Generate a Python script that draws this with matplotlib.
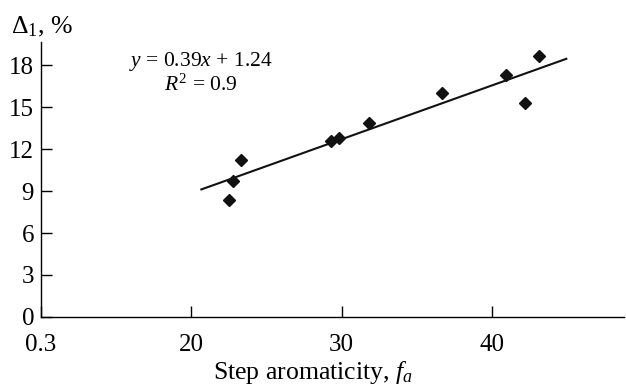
import matplotlib
matplotlib.use("Agg")
import matplotlib.pyplot as plt

plt.rcParams['font.family'] = ['Liberation Serif', 'DejaVu Serif']
plt.rcParams['mathtext.fontset'] = 'custom'
plt.rcParams['mathtext.rm'] = 'Liberation Serif'
plt.rcParams['mathtext.it'] = 'Liberation Serif:italic'

# data
fa = [22.5, 22.8, 23.3, 29.3, 29.8, 31.8, 36.7, 40.9, 42.2, 43.1]
delta1 = [8.4, 9.75, 11.2, 12.57, 12.78, 13.86, 16.04, 17.3, 15.32, 18.71]
fit_x = [20.6, 45.0]
fit_y = [9.1, 18.5]
xticks = [10, 20, 30, 40]
xticklabels = ['0.3', '20', '30', '40']
yticks = [0, 3, 6, 9, 12, 15, 18]

fig = plt.figure(figsize=(6.26, 3.86), dpi=100)
ax = fig.add_axes([0.0655, 0.179, 0.932, 0.713])

ax.plot(fit_x, fit_y, color='#111111', lw=1.5, solid_capstyle='butt')
ax.plot(fa, delta1, linestyle='none', marker='D', ms=6.5, color='#111111')

ax.set_xlim(10, 48.8)
ax.set_ylim(0, 19.7)
ax.set_xticks(xticks)
ax.set_xticklabels(xticklabels)
ax.set_yticks(yticks)
for s in ['top', 'right']:
    ax.spines[s].set_visible(False)
for s in ['left', 'bottom']:
    ax.spines[s].set_linewidth(1.0)
ax.tick_params(axis='both', direction='in', length=8, width=1.0, labelsize=18)
ax.tick_params(axis='x', pad=12)
ax.tick_params(axis='y', pad=5)

ax.text(20.64, 18.3, r'$y$ = 0.39$x$ + 1.24', ha='center', va='center', fontsize=15.5)
ax.text(20.64, 16.6, r'$R^2$ = 0.9', ha='center', va='center', fontsize=15.5)

fig.text(0.018, 0.93, r'Δ$_1$, %', ha='left', va='center', fontsize=18.5)
fig.text(0.5, 0.035, r'Step aromaticity, $f_a$', ha='center', va='center', fontsize=18.5)

fig.savefig('out.png', dpi=100)
